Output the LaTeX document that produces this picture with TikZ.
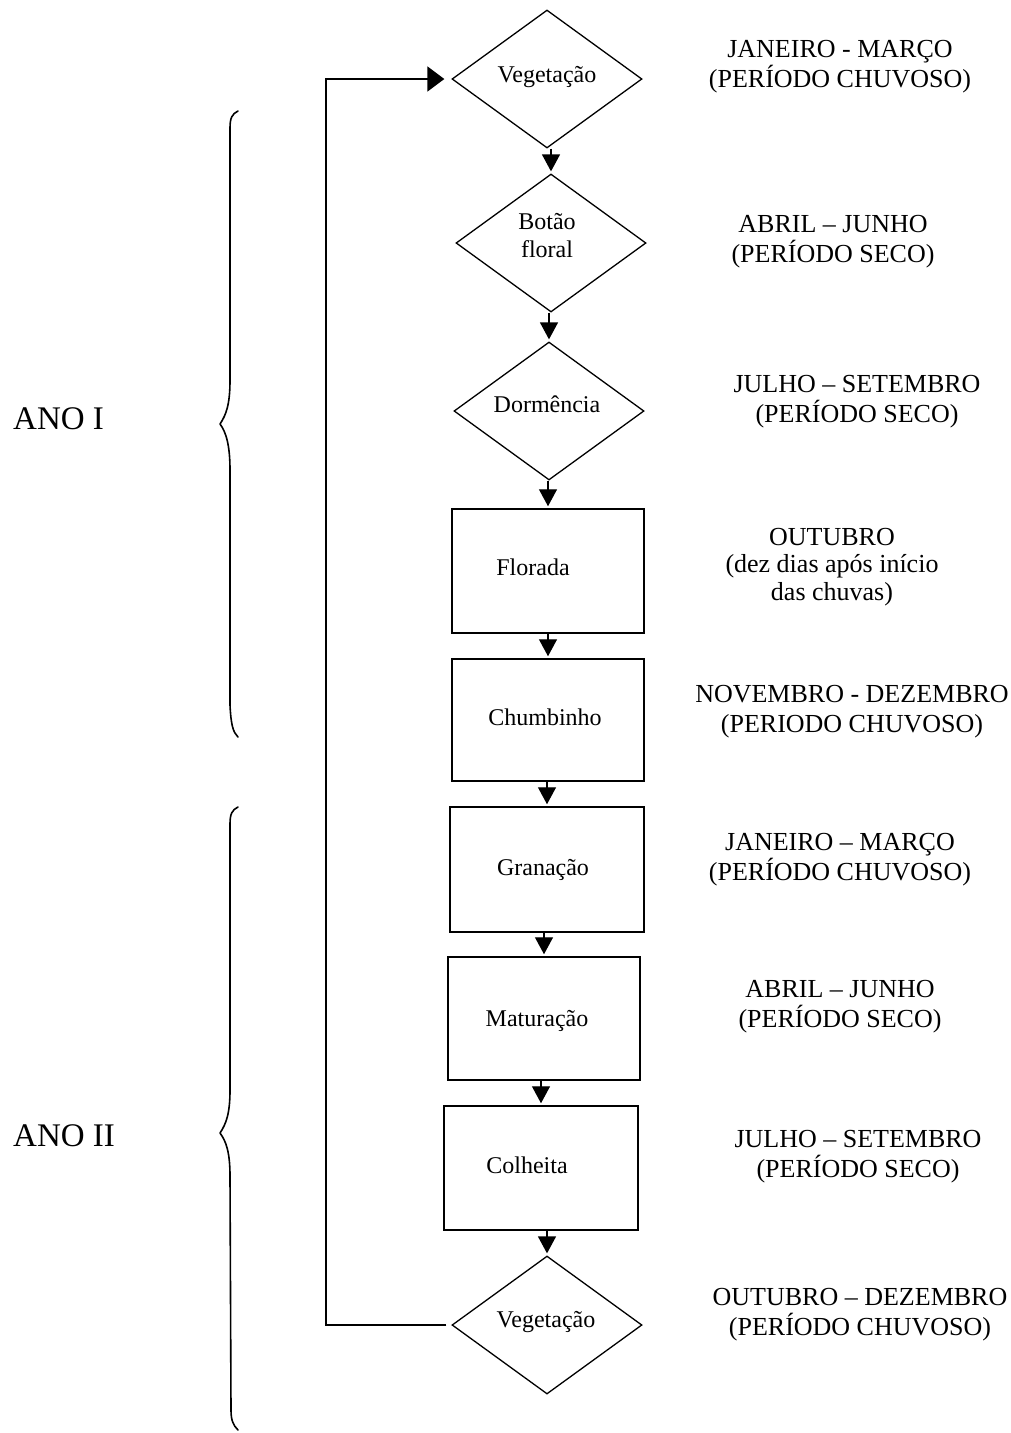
\documentclass[tikz,border=0pt]{standalone}
\usepackage{fontspec}
\setmainfont{Liberation Serif}
\usetikzlibrary{shapes.geometric,arrows.meta}
\begin{document}
\begin{tikzpicture}[x=1pt,y=-1pt,
 dia/.style={draw, diamond, line width=1.3pt, inner sep=0pt, minimum width=190pt, minimum height=138pt},
 box/.style={draw, rectangle, line width=1.5pt, inner sep=0pt},
 stxt/.style={font=\fontsize{24}{28}\selectfont, anchor=base, inner sep=0pt, align=center},
 rtxt/.style={font=\fontsize{26}{29.5}\selectfont, anchor=base, inner sep=0pt, align=center},
 anotxt/.style={font=\fontsize{33}{38}\selectfont, anchor=base west, inner sep=0pt},
 arr/.style={line width=1.3pt, -{Triangle[width=18pt,length=17pt]}},
 looparr/.style={line width=1.6pt, -{Triangle[width=25pt,length=17pt]}},
 brace/.style={line width=1.6pt, line cap=round, line join=round}]
\useasboundingbox (0,0) rectangle (1011,1433);
\fill[white] (0,0) rectangle (1011,1433);

% shapes
\node[dia] (v1) at (547,79) {};
\node[dia] (bf) at (551,243) {};
\node[dia] (dor) at (549,411) {};
\node[box, minimum width=192pt, minimum height=124pt] (flo) at (548,571) {};
\node[box, minimum width=192pt, minimum height=122pt] (chu) at (548,720) {};
\node[box, minimum width=194pt, minimum height=125pt] (gra) at (547,869.5) {};
\node[box, minimum width=192pt, minimum height=123pt] (mat) at (544,1018.5) {};
\node[box, minimum width=194pt, minimum height=124pt] (col) at (541,1168) {};
\node[dia] (v2) at (547,1325) {};

% texts inside shapes (anchor base = last line)
\node[stxt] (tv1) at (547,82) {Vegetação};
\node[stxt] (tbf) at (547,257) {Botão\\floral};
\node[stxt] (tdor) at (547,412) {Dormência};
\node[stxt] (tflo) at (533,575) {Florada};
\node[stxt] (tchu) at (545,725) {Chumbinho};
\node[stxt] (tgra) at (543,875) {Granação};
\node[stxt] (tmat) at (537,1026) {Maturação};
\node[stxt] (tcol) at (527,1173) {Colheita};
\node[stxt] (tv2) at (546,1327) {Vegetação};

% arrows
\draw[arr] (v1.south -| bf.north) -- ([yshift=2pt]bf.north);
\draw[arr] (bf.south -| dor.north) -- ([yshift=2pt]dor.north);
\draw[arr] (dor.south -| flo.north) -- ([yshift=2pt]flo.north);
\draw[arr] (flo.south) -- ([yshift=2pt]chu.north);
\draw[arr] (chu.south -| gra.north) -- ([yshift=2pt]gra.north);
\draw[arr] (gra.south -| mat.north) -- ([yshift=2pt]mat.north);
\draw[arr] (mat.south -| col.north) -- ([yshift=2pt]col.north);
\draw[arr] (col.south -| v2.north) -- ([yshift=2pt]v2.north);

% loop back
\coordinate (lc) at (326,700);
\coordinate (lb) at (v2.west -| lc);
\coordinate (lt) at (v1.west -| lc);
\draw[looparr] ([xshift=-5pt]v2.west) -- (lb) -- (lt) -- ([xshift=-7pt]v1.west);

% right labels (anchor base = last line)
\node[rtxt] (l1) at (840,87) {JANEIRO - MARÇO\\(PERÍODO CHUVOSO)};
\node[rtxt] (l2) at (833,262) {ABRIL – JUNHO\\(PERÍODO SECO)};
\node[rtxt] (l3) at (857,422) {JULHO – SETEMBRO\\(PERÍODO SECO)};
\node[rtxt, font=\fontsize{26}{27.5}\selectfont] (l4) at (832,600) {OUTUBRO\\(dez dias após início\\das chuvas)};
\node[rtxt] (l5) at (852,732) {NOVEMBRO - DEZEMBRO\\(PERIODO CHUVOSO)};
\node[rtxt] (l6) at (840,880) {JANEIRO – MARÇO\\(PERÍODO CHUVOSO)};
\node[rtxt] (l7) at (840,1027) {ABRIL – JUNHO\\(PERÍODO SECO)};
\node[rtxt] (l8) at (858,1177) {JULHO – SETEMBRO\\(PERÍODO SECO)};
\node[rtxt] (l9) at (860,1335) {OUTUBRO – DEZEMBRO\\(PERÍODO CHUVOSO)};

% year labels
\node[anotxt] (ano1) at (13,429) {ANO I};
\node[anotxt] (ano2) at (13,1146) {ANO II};

% braces
\draw[brace] (238,111) .. controls (232,114) and (230,118) .. (230,128) -- (230,380)
  .. controls (230,405) and (226,415) .. (220,424)
  .. controls (226,432) and (230,445) .. (230,470) -- (230,705)
  .. controls (231,725) and (233,732) .. (238,737);
\draw[brace] (238,807) .. controls (232,810) and (230,814) .. (230,824) -- (230,1090)
  .. controls (230,1114) and (226,1124) .. (220,1133)
  .. controls (226,1141) and (230,1152) .. (230,1176) -- (231,1410)
  .. controls (231,1420) and (233,1425) .. (238,1430);
\end{tikzpicture}
\end{document}
